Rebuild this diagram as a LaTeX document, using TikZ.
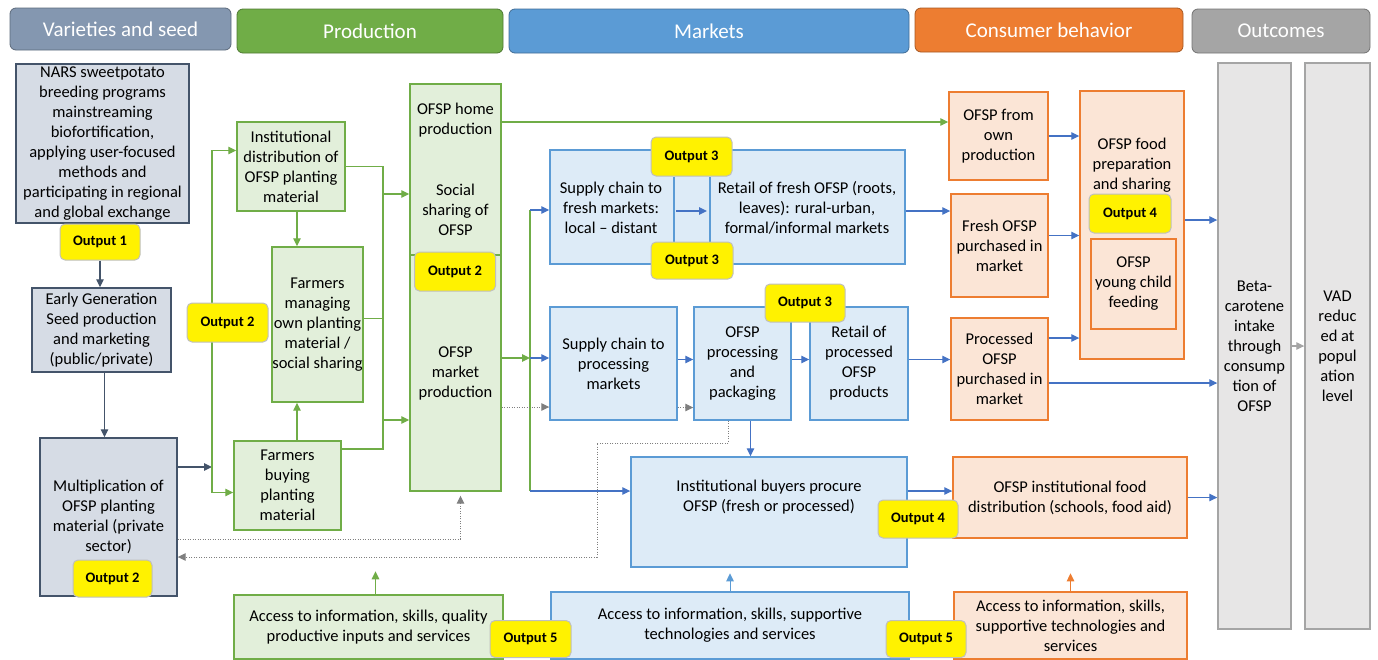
\documentclass[tikz,border=0pt]{standalone}
\usepackage{fontspec}
\setmainfont{Carlito}
\usetikzlibrary{arrows.meta}
\definecolor{cSlate}{HTML}{44546A}
\definecolor{cSlateFill}{HTML}{D6DCE5}
\definecolor{cSlateHead}{HTML}{8497B0}
\definecolor{cGreen}{HTML}{70AD47}
\definecolor{cGreenFill}{HTML}{E2EFDA}
\definecolor{cBlue}{HTML}{5B9BD5}
\definecolor{cBlueFill}{HTML}{DDEBF7}
\definecolor{cBlueArr}{HTML}{4472C4}
\definecolor{cOrange}{HTML}{ED7D31}
\definecolor{cOrangeFill}{HTML}{FBE5D6}
\definecolor{cGrey}{HTML}{A5A5A5}
\definecolor{cGreyFill}{HTML}{E7E6E6}
\definecolor{cDots}{HTML}{7F7F7F}
\definecolor{cOutline}{HTML}{BFBFBF}

\begin{document}
\begin{tikzpicture}[x=1pt,y=-1pt,
  sz/.style 2 args={minimum width=#1,minimum height=#2},
  box/.style={draw,line width=1.4pt,align=center,inner sep=0pt,font=\fontsize{16.5}{20}\selectfont},
  sbox/.style={box,draw=cSlate,fill=cSlateFill},
  gbox/.style={box,draw=cGreen,fill=cGreenFill},
  mbox/.style={box,draw=cBlue,fill=cBlueFill},
  cbox/.style={box,draw=cOrange,fill=cOrangeFill},
  obox/.style={box,draw=cGrey,fill=cGreyFill},
  txt/.style={align=center,inner sep=0pt,font=\fontsize{16.5}{20}\selectfont},
  head/.style={draw=#1!70!black,fill=#1,rounded corners=6pt,line width=0.8pt,text=white,font=\fontsize{21}{22}\selectfont},
  outp/.style={draw=cOutline,fill=yellow,rounded corners=5pt,line width=1pt,font=\bfseries\fontsize{14.5}{16}\selectfont},
  tip/.style={-{Triangle[length=8pt,width=7.5pt]}},
  darr/.style={draw=cSlate,line width=1.3pt,tip},
  garr/.style={draw=cGreen,line width=1.3pt,tip},
  gln/.style={draw=cGreen,line width=1.3pt},
  barr/.style={draw=cBlueArr,line width=1.3pt,tip},
  bln/.style={draw=cBlue,line width=1.4pt},
  larr/.style={draw=cBlue,line width=1pt,tip},
  oarr/.style={draw=cOrange,line width=1pt,tip},
  grarr/.style={draw=cGrey,line width=1.3pt,tip},
  dotarr/.style={draw=cDots,line width=1pt,dash pattern=on 1.2pt off 1.3pt,-{Triangle[length=8pt,width=7.5pt]}}]
\useasboundingbox (0,0) rectangle (1378,659);

% headers
\node[head=cSlateHead,sz={221}{42}] (hvar) at (120.5,29) {Varieties and seed};
\node[head=cGreen,sz={266}{44}] (hprod) at (370,31) {Production};
\node[head=cBlue,sz={400}{44}] (hmark) at (709,31) {Markets};
\node[head=cOrange,sz={268}{44}] (hcons) at (1049,30) {Consumer behavior};
\node[head=cGrey,sz={178}{44}] (hout) at (1281,31) {Outcomes};

% varieties and seed
\node[sbox,sz={173}{159}] (nars) at (102.5,143.5) {NARS sweetpotato\\breeding programs\\mainstreaming\\biofortification,\\applying user-focused\\methods and\\participating in regional\\and global exchange};
\node[sbox,sz={139}{84}] (egs) at (101.5,330) {Early Generation\\Seed production\\and marketing\\(public/private)};
\node[sbox,sz={137}{158}] (mult) at (108.5,517) {Multiplication of\\OFSP planting\\material (private\\sector)};

% production
\node[gbox,sz={108}{89}] (inst) at (291,166.5) {Institutional\\distribution of\\OFSP planting\\material};
\node[gbox,sz={91}{155}] (manage) at (317.5,324.5) {Farmers\\managing\\own planting\\material /\\social sharing};
\node[gbox,sz={107}{89}] (buy) at (287.5,485.5) {Farmers\\buying\\planting\\material};
\node[gbox,sz={91}{171}] (homebox) at (455.5,169.5) {};
\node[txt] (home) at (455.5,120) {OFSP home\\production};
\node[txt] (social) at (455.5,210) {Social\\sharing of\\OFSP};
\node[gbox,sz={91}{236}] (market) at (455.5,373) {OFSP\\market\\production};

% markets
\node[mbox,sz={355}{114}] (freshbox) at (727.5,207) {};
\node[txt] (supfresh) at (611,208) {Supply chain to\\fresh markets:\\local -- distant};
\node[txt] (retfresh) at (807,208) {Retail of fresh OFSP (roots,\\leaves): rural-urban,\\formal/informal markets};
\node[mbox,sz={127}{113}] (supproc) at (613.5,363.5) {Supply chain to\\processing\\markets};
\node[mbox,sz={97}{113}] (procpack) at (742.5,363.5) {OFSP\\processing\\and\\packaging};
\node[mbox,sz={98}{113}] (retproc) at (859,363.5) {Retail of\\processed\\OFSP\\products};
\node[mbox,sz={276}{110}] (instbuy) at (769,512) {Institutional buyers procure\\OFSP (fresh or processed)\\[12pt]};

% consumer behavior
\node[cbox,sz={99}{88}] (own) at (998.5,136) {OFSP from\\own\\production};
\node[cbox,sz={97}{103}] (freshp) at (999.5,245.5) {Fresh OFSP\\purchased in\\market};
\node[cbox,sz={97}{102}] (procp) at (999.5,369) {Processed\\OFSP\\purchased in\\market};
\node[cbox,sz={104}{268}] (prep) at (1132,225) {};
\node[txt] (preptxt) at (1132,165) {OFSP food\\preparation\\and sharing};
\node[cbox,sz={85}{90}] (child) at (1133.5,284) {OFSP\\young child\\feeding};
\node[cbox,sz={234}{81}] (instfood) at (1070,497.5) {OFSP institutional food\\distribution (schools, food aid)};

% outcomes
\node[obox,sz={73}{566}] (beta) at (1254.5,346) {Beta-\\carotene\\intake\\through\\consump\\tion of\\OFSP};
\node[obox,sz={65}{566}] (vad) at (1337.5,346) {VAD\\reduc\\ed at\\popul\\ation\\level};

% enabling environment
\node[gbox,sz={269}{64}] (accg) at (368.5,627) {Access to information, skills, quality\\productive inputs and services};
\node[mbox,sz={358}{67}] (accb) at (730,625.5) {Access to information, skills, supportive\\technologies and services};
\node[cbox,sz={233}{67}] (acco) at (1070.5,625.5) {Access to information, skills,\\supportive technologies and\\services};

\node[outp,sz={80}{36}] (out1) at (100,242) {Output 1};

% connectors
\draw[darr] (out1.south) -- (out1.south |- egs.north);
\draw[darr] ([xshift=3pt]egs.south) -- ([xshift=3pt]egs.south |- mult.north);
\coordinate (gb) at (212,467);
\draw[darr] (mult.east |- gb) -- (gb);
\draw[garr] (gb) |- ([yshift=16pt]inst.west);
\draw[garr] (gb) |- ([yshift=-7pt]buy.west);
\draw[garr] ([xshift=6pt]inst.south) -- ([xshift=6pt]inst.south |- manage.north);
\draw[garr] ([xshift=9.5pt]buy.north) -- ([xshift=9.5pt]buy.north |- manage.south);

\coordinate (rb1) at (383,194);
\coordinate (rb2) at (383,420);
\coordinate (rb3) at (383,449);
\draw[gln] (inst.east) -| (rb3) -- (rb3 -| buy.east);
\draw[gln] ([yshift=6pt]manage.east) -- ([yshift=6pt]manage.east -| rb3);
\draw[garr] (rb1) -- (rb1 -| homebox.west);
\draw[garr] (rb2) -- (rb2 -| market.west);
\draw[garr] ([yshift=-2pt]home.east -| homebox.east) -- ([yshift=-2pt]home.east -| own.west);

\coordinate (bb1) at (530,210);
\coordinate (bb2) at (530,358);
\coordinate (bb3) at (530,491);
\draw[gln] (bb1) -- (bb3);
\draw[garr] (bb2 -| market.east) -- (bb2);
\draw[barr] (bb1) -- (bb1 -| freshbox.west);
\draw[barr] (bb2) -- (bb2 -| supproc.west);
\draw[barr] (bb3) -- (bb3 -| instbuy.west);

\coordinate (fl) at (674,211);
\coordinate (fr) at (710,211);
\draw[bln] ([yshift=34pt]fl) -- ([yshift=-31pt]fl);
\draw[bln] ([yshift=34pt]fr) -- ([yshift=-31pt]fr);
\draw[barr] ([xshift=2pt]fl) -- ([xshift=-3pt]fr);
\draw[barr] (fr -| freshbox.east) -- (fr -| freshp.west);

\draw[barr] ([yshift=4pt]supproc.east) -- ([yshift=4pt]supproc.east -| procpack.west);
\draw[barr] ([yshift=4pt]procpack.east) -- ([yshift=4pt]procpack.east -| retproc.west);
\draw[barr] ([yshift=4pt]retproc.east) -- ([yshift=4pt]retproc.east -| procp.west);
\draw[barr] ([xshift=8pt]procpack.south) -- ([xshift=8pt]procpack.south |- instbuy.north);
\draw[barr] ([yshift=21pt]instbuy.east) -- ([yshift=21pt]instbuy.east -| instfood.west);

\draw[barr] (own.east) -- (own.east -| prep.west);
\draw[barr] ([yshift=10pt]freshp.east) -- ([yshift=10pt]freshp.east -| prep.west);
\draw[barr] ([yshift=31pt]procp.east) -- ([yshift=31pt]procp.east -| prep.west);
\draw[barr] ([yshift=-14pt]procp.east) -- ([yshift=-14pt]procp.east -| beta.west);
\draw[barr] ([yshift=5pt]prep.east) -- ([yshift=5pt]prep.east -| beta.west);
\draw[barr] (instfood.east) -- (instfood.east -| beta.west);
\draw[grarr] (beta.east) -- (vad.west);

\draw[dotarr] ([yshift=-34pt]market.east) -- ([yshift=-34pt]market.east -| supproc.west);
\draw[dotarr] ([yshift=-44pt]supproc.east) -- ([yshift=-44pt]supproc.east -| procpack.west);
\draw[dotarr] ([yshift=-22pt]mult.east) -| ([xshift=5pt,yshift=-4pt]market.south);
\coordinate (dp) at (597,443);
\draw[dotarr] ([xshift=-14pt]procpack.south) |- (dp) |- ([yshift=-40pt]mult.east);

\draw[garr] ([xshift=7pt]accg.north) -- ++(0,-23);
\draw[larr] (accb.north) -- ++(0,-18);
\draw[oarr] (acco.north) -- ++(0,-18);

% outputs
\node[outp,sz={81}{39}] (out2a) at (227.5,322.5) {Output 2};
\node[outp,sz={81}{39}] (out2b) at (455,271.5) {Output 2};
\node[outp,sz={79}{37}] (out2c) at (112.5,578.5) {Output 2};
\node[outp,sz={81}{39}] (out3a) at (691.5,156.5) {Output 3};
\node[outp,sz={82}{37}] (out3b) at (692,260.5) {Output 3};
\node[outp,sz={80}{38}] (out3c) at (805,303) {Output 3};
\node[outp,sz={80}{38}] (out4a) at (918,519) {Output 4};
\node[outp,sz={82}{39}] (out4b) at (1130,213.5) {Output 4};
\node[outp,sz={81}{37}] (out5a) at (530.5,639) {Output 5};
\node[outp,sz={80}{37}] (out5b) at (926,639) {Output 5};
\end{tikzpicture}
\end{document}
